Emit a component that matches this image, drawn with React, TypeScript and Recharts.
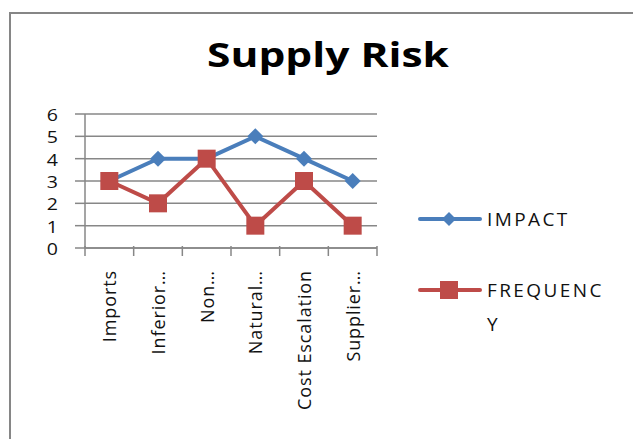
import React from 'react';
import { ComposedChart, Line, XAxis, YAxis, CartesianGrid, Legend } from 'recharts';

const categories = ['Imports', 'Inferior…', 'Non…', 'Natural…', 'Cost Escalation', 'Supplier…'];
const impact = [3, 4, 4, 5, 4, 3];
const frequency = [3, 2, 4, 1, 3, 1];
const yTicks = [0, 1, 2, 3, 4, 5, 6];

const data = categories.map((name, i) => ({ name, IMPACT: impact[i], FREQUENCY: frequency[i] }));

const FONT = '"Open Sans", "Liberation Sans", sans-serif';
const BLUE = '#4A7EBB';
const RED = '#BE4B48';
const AXIS = '#878787';
const BAND = 292 / categories.length;

const XTick = (props: any) => {
    const { x, y, payload, index } = props;
    const left = x - BAND / 2;
    return (
        <g>
            <line x1={left} y1={y - 10} x2={left} y2={y} stroke={AXIS} strokeWidth={1.5} />
            {index === categories.length - 1 && (
                <line x1={x + BAND / 2} y1={y - 10} x2={x + BAND / 2} y2={y} stroke={AXIS} strokeWidth={1.5} />
            )}
            <text
                x={x}
                y={y + 14}
                transform={`rotate(-90, ${x}, ${y + 14})`}
                textAnchor="end"
                dominantBaseline="central"
                fontSize={18}
                fontFamily={FONT}
                letterSpacing={0.9}
                fill="#111"
            >
                {payload.value}
            </text>
        </g>
    );
};

const YTick = (props: any) => {
    const { x, y, payload } = props;
    return (
        <text x={x} y={y} textAnchor="end" dominantBaseline="central" fontSize={17} fontFamily={FONT} fill="#111" transform={`translate(${x},0) scale(1.15,1) translate(${-x},0)`}>
            {payload.value}
        </text>
    );
};

const Diamond = (props: any) => {
    const { cx, cy } = props;
    return <path d={`M${cx},${cy - 8} L${cx + 8},${cy} L${cx},${cy + 8} L${cx - 8},${cy} Z`} fill={BLUE} />;
};

const Square = (props: any) => {
    const { cx, cy } = props;
    return <rect x={cx - 9} y={cy - 9} width={18} height={18} fill={RED} />;
};

const LegendBox = () => (
    <div style={{ fontFamily: FONT, fontSize: 19, color: '#111', letterSpacing: 2.4 }}>
        <div style={{ position: 'absolute', left: 0, top: 0, display: 'flex', alignItems: 'center' }}>
            <svg width={64} height={20} style={{ marginRight: 5 }}>
                <line x1={2} y1={10} x2={62} y2={10} stroke={BLUE} strokeWidth={4} strokeLinecap="round" />
                <path d="M31,3 L38,10 L31,17 L24,10 Z" fill={BLUE} />
            </svg>
            <span>IMPACT</span>
        </div>
        <div style={{ position: 'absolute', left: 0, top: 73, display: 'flex', alignItems: 'flex-start' }}>
            <svg width={64} height={22} style={{ marginRight: 5 }}>
                <line x1={2} y1={11} x2={62} y2={11} stroke={RED} strokeWidth={4} strokeLinecap="round" />
                <rect x={22} y={2} width={18} height={18} fill={RED} />
            </svg>
            <div style={{ lineHeight: '34px', marginTop: -6 }}>
                <div>FREQUENC</div>
                <div>Y</div>
            </div>
        </div>
    </div>
);

export default function App() {
    return (
        <div style={{ position: 'absolute', left: 0, top: 0, width: 633, height: 439, background: '#fff', overflow: 'hidden' }}>
            <div style={{ position: 'absolute', left: 9, top: 12, width: 640, height: 440, borderLeft: '2px solid #868686', borderTop: '2px solid #868686' }} />
            <div style={{ position: 'absolute', left: 178, top: 31, width: 300, textAlign: 'center', fontFamily: FONT, fontWeight: 'bold', fontSize: 34, color: '#000', whiteSpace: 'nowrap', transform: 'scaleX(1.25)', transformOrigin: '150px 0' }}>
                Supply Risk
            </div>
            <div style={{ position: 'absolute', left: 0, top: 0 }}>
                <ComposedChart width={633} height={439} data={data} margin={{ top: 114, left: 35, right: 256, bottom: 91 }}>
                    <CartesianGrid vertical={false} stroke={AXIS} strokeWidth={1.5} />
                    <XAxis
                        dataKey="name"
                        scale="band"
                        interval={0}
                        height={100}
                        stroke={AXIS}
                        strokeWidth={1.5}
                        tickLine={false}
                        tick={<XTick />}
                    />
                    <YAxis
                        domain={[0, 6]}
                        ticks={yTicks}
                        interval={0}
                        width={50}
                        stroke={AXIS}
                        strokeWidth={1.5}
                        tickSize={10}
                        tickMargin={17}
                        tick={<YTick />}
                    />
                    <Legend content={<LegendBox />} wrapperStyle={{ left: 418, top: 206, width: 215 }} />
                    <Line dataKey="IMPACT" stroke={BLUE} strokeWidth={4} dot={<Diamond />} isAnimationActive={false} />
                    <Line dataKey="FREQUENCY" stroke={RED} strokeWidth={4} dot={<Square />} isAnimationActive={false} />
                </ComposedChart>
            </div>
        </div>
    );
}
